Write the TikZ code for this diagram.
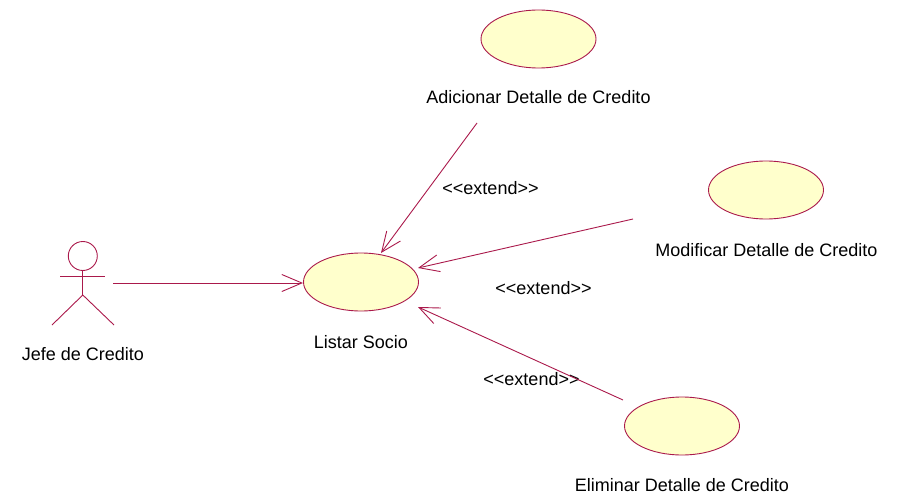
\documentclass[tikz,border=0pt]{standalone}
\usepackage{fontspec}
\setmainfont{Liberation Sans}
\usetikzlibrary{arrows.meta,shapes.geometric}
\definecolor{umlline}{RGB}{170,25,75}
\definecolor{umlfill}{RGB}{255,255,204}
\tikzset{
  usecase/.style={ellipse,draw=umlline,fill=umlfill,line width=0.9pt,minimum width=115pt,minimum height=58pt,inner sep=0pt},
  lbl/.style={font=\fontsize{18}{20}\selectfont,text=black,inner sep=0pt},
  assoc/.style={draw=umlline,line width=0.9pt,-{Straight Barb[length=20pt,width=17pt,line width=0.9pt]}},
  actorline/.style={draw=umlline,line width=0.9pt}
}
\begin{document}
\begin{tikzpicture}[x=1pt,y=-1pt]
\useasboundingbox (0,0) rectangle (902,500);
% use cases
\node[usecase] (adic) at (538.5,39) {};
\node[usecase] (modi) at (766,190) {};
\node[usecase] (list) at (361,282) {};
\node[usecase] (elim) at (682,426) {};
% labels
\node[lbl] (ladic) at (538.5,97) {Adicionar Detalle de Credito};
\node[lbl] (lmodi) at (766.5,250) {Modificar Detalle de Credito};
\node[lbl] (llist) at (361,342) {Listar Socio};
\node[lbl] (lelim) at (682,485) {Eliminar Detalle de Credito};
\node[lbl] (ljefe) at (83,354) {Jefe de Credito};
\node[lbl] (e1) at (490.5,188) {<{}<extend>{}>};
\node[lbl] (e2) at (543.5,288) {<{}<extend>{}>};
\node[lbl] (e3) at (531.5,379) {<{}<extend>{}>};
% actor
\node[circle,draw=umlline,line width=0.9pt,minimum size=29pt,inner sep=0pt] (head) at (82.8,256) {};
\coordinate (hip) at (82.8,295);
\coordinate (armL) at (60,276.5);
\coordinate (armR) at (105,276.5);
\coordinate (legL) at (52,325);
\coordinate (legR) at (114,325);
\draw[actorline] (head.south) -- (hip);
\draw[actorline] (armL) -- (armR);
\draw[actorline] (legL) -- (hip) -- (legR);
% connector ends
\coordinate (a0) at (113,283);
\coordinate (a1) at (303,283);
\coordinate (b0) at (477,123);
\coordinate (b1) at (381,253);
\coordinate (c0) at (633,219);
\coordinate (c1) at (418,268);
\coordinate (d0) at (623,400);
\coordinate (d1) at (418,307);
\draw[assoc] (a0) -- (a1);
\draw[assoc] (b0) -- (b1);
\draw[assoc] (c0) -- (c1);
\draw[assoc] (d0) -- (d1);
\end{tikzpicture}
\end{document}
